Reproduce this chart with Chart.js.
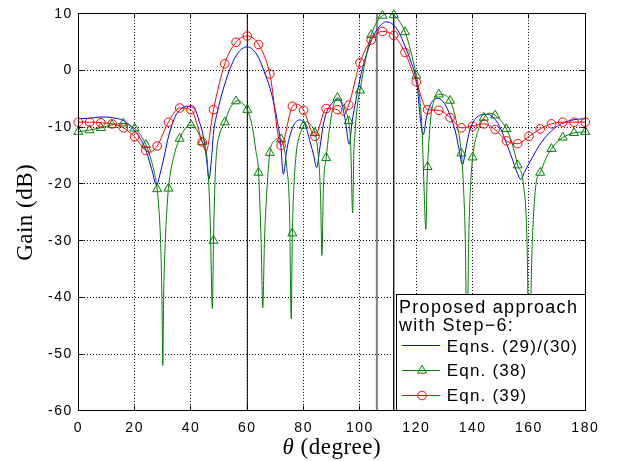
<!DOCTYPE html>
<html>
<head>
<meta charset="utf-8">
<title>Gain vs theta</title>
<script src="https://cdn.jsdelivr.net/npm/chart.js@4.4.1/dist/chart.umd.min.js"></script>
<style>
  html, body { margin: 0; padding: 0; background: #fff; }
  canvas { display: block; }
</style>
</head>
<body>
<canvas id="gainChart" width="617" height="461"></canvas>
<script>
// axis ticks
const thetaTicks = [0, 20, 40, 60, 80, 100, 120, 140, 160, 180];
const gainTicks = [-60, -50, -40, -30, -20, -10, 0, 10];

// Eqns. (29)/(30)
const blueTheta = [
  0, 4, 8, 10, 12, 16, 18, 20, 22, 24,
  26, 27.8, 29, 30.2, 32, 34.3, 36, 38.5, 40, 41.4,
  43, 44.4, 45.5, 46.4, 47.3, 48, 49.1, 50.5, 51.8, 54,
  56, 58, 60, 62, 64, 66, 68, 69.5, 70.5, 71.8,
  72.8, 74, 75.2, 76.5, 78.7, 80.5, 82.3, 83.6, 84.6, 85.8,
  87, 88.2, 90, 92.3, 93.5, 94.7, 96.2, 97.2, 98.2, 100,
  101.8, 104.2, 106.5, 109.4, 111.8, 114, 116, 118, 119.5, 120.5,
  121.3, 122.5, 123.5, 125, 127.8, 130, 132, 134, 135.2, 136.4,
  137.5, 139, 141, 143, 145.3, 148, 150, 152, 154, 155.8,
  157.1, 158.5, 161, 164.5, 169.2, 174, 177, 180
];
const blueGain = [
  -8.5, -8.4, -8.2, -8.2, -8.3, -8.8, -9.5, -10.6, -12, -14,
  -17.3, -20.2, -18.3, -15.8, -11.7, -8.2, -7.0, -6.3, -6.4, -6.8,
  -9.0, -11.7, -15.5, -19.1, -15.5, -11, -7.9, -5, -2.7, 0.5,
  2.6, 3.8, 4.2, 3.7, 2.3, -0.2, -3.0, -6, -8.5, -12.6,
  -18.3, -14, -11.4, -9.6, -8.7, -9.5, -12.6, -15, -17.1, -13.5,
  -9.5, -7.3, -5.8, -5.0, -5.8, -8.5, -13.0, -9, -6.2, -1.5,
  2.0, 5.5, 7.5, 8.6, 8.1, 6.6, 4.3, 1.7, -0.6, -3.5,
  -7.9, -11.3, -8.5, -6, -4.9, -5.8, -7.9, -11, -14, -16.6,
  -14, -10.5, -8.5, -7.8, -7.7, -8.6, -10.3, -12.8, -15.5, -18,
  -19.2, -17.8, -15.5, -12.6, -10.1, -8.9, -8.6, -8.5
];

// Eqn. (38)
const greenTheta = [
  0, 4, 8, 12, 16, 20, 22, 24, 26, 27,
  28, 28.7, 29.2, 29.7, 30, 30.3, 30.9, 31.4, 32, 34,
  36, 38, 40, 42, 44, 45.6, 46.8, 47.6, 48, 48.5,
  49.1, 50, 52, 54, 56, 57, 58, 60, 61, 62,
  63, 64, 64.9, 65.5, 66.1, 67.1, 68, 70, 71, 72,
  73, 74, 75, 75.6, 76, 76.6, 77.5, 78, 80, 81,
  82, 84, 85, 86, 86.5, 87, 88, 90, 92, 94,
  95, 96, 96.7, 97.4, 97.8, 98.2, 99, 100, 102, 104,
  106, 108, 110, 112, 114, 116, 118, 120, 121, 122,
  122.7, 123.4, 123.8, 124, 125, 126, 128, 130, 132, 134,
  136, 136.7, 137.4, 138, 138.6, 139.3, 140, 142, 144, 146,
  148, 150, 152, 154, 156, 158, 159.3, 160, 161.2, 162.5,
  164, 166, 168, 170, 172, 176, 180
];
const greenGain = [
  -10.8, -10.5, -10.1, -9.6, -9.3, -10.2, -11.3, -13.1, -16, -18,
  -20.9, -25, -30, -40, -52, -40, -30, -25, -20.8, -15,
  -12, -10.2, -9.6, -10.4, -12.6, -15, -26, -42, -30, -20,
  -14.3, -11.5, -9.1, -6.5, -5.4, -5.3, -5.6, -6.9, -8.3, -10.5,
  -14, -18, -30, -41.8, -30, -20, -14.5, -12.2, -11.9, -12.1,
  -13.5, -17, -25, -43.8, -28.7, -20, -14, -12.5, -9.7, -9.0,
  -9.3, -11.0, -14, -22, -32.6, -21, -15.4, -7.5, -4.8, -6,
  -7.3, -8.9, -13, -25.1, -15, -11.4, -6.5, -3.5, 2, 6.3,
  8.6, 9.7, 10.1, 9.8, 8.7, 6.8, 3.5, -0.9, -4, -10,
  -20, -28, -20, -17, -9, -5.8, -4.2, -4.3, -5.3, -8.5,
  -14.6, -20, -30, -50, -30, -20, -15.3, -10.5, -8.3, -7.5,
  -7.9, -8.8, -10.3, -12.8, -16.7, -20, -30, -50, -30, -20,
  -18, -15.5, -13.8, -12.6, -11.8, -11, -10.8
];

// Eqn. (39)
const redTheta = [
  0, 4, 8, 12, 16, 20, 24, 25.5, 28, 32,
  36, 40, 44, 45.3, 48, 52, 56, 60, 64, 68,
  72, 76, 77.5, 80, 84, 88, 92, 94, 96, 100,
  104, 108, 112, 116, 120, 124, 128, 132, 136, 140,
  144, 148, 152, 156, 160, 164, 168, 172, 176, 180
];
const redGain = [
  -9.1, -9.1, -9.2, -9.4, -10.1, -11.7, -14.1, -14.4, -13.3, -9.1,
  -6.6, -6.9, -12.6, -14.3, -6.9, 1.2, 5.0, 6.1, 4.6, -0.6,
  -13.2, -6.3, -5.9, -7.0, -11.6, -6.7, -6.9, -7.9, -6.1, 1.4,
  5.4, 6.9, 6.2, 3.2, -2.0, -6.9, -7.0, -8.3, -10.1, -9.8,
  -9.4, -10.4, -12.4, -12.9, -11.6, -10.3, -9.4, -9.1, -9.1, -9.1
];

// vertical lines across the plot
const refAngles = [60, 106, 112];

// ---------------------------------------------------------------

const pairs = (xs, ys) => xs.map((x, i) => ({ x: x, y: ys[i] }));

// markers only every 4 degrees
const every4 = r => c => (c.raw && c.raw.x % 4 === 0 ? r : 0);

const refStyles = [
  { color: '#000000', width: 1 },
  { color: '#808080', width: 2 },
  { color: '#000000', width: 1.3 }
];

const gMin = gainTicks[0];
const gMax = gainTicks[gainTicks.length - 1];

const curveBase = {
  borderWidth: 1,
  cubicInterpolationMode: 'monotone',
  backgroundColor: 'rgba(0,0,0,0)',
  pointBorderWidth: 1,
  pointHoverRadius: 0,
  clip: { left: 6, top: 6, right: 6, bottom: 0 }
};

const datasets = [
  Object.assign({}, curveBase, {
    label: 'Eqn. (39)',
    data: pairs(redTheta, redGain),
    borderColor: '#ff0000',
    pointBorderColor: '#ff0000',
    pointStyle: 'circle',
    pointRadius: every4(4.3)
  }),
  Object.assign({}, curveBase, {
    label: 'Eqn. (38)',
    data: pairs(greenTheta, greenGain),
    borderColor: '#008000',
    pointBorderColor: '#008000',
    pointStyle: 'triangle',
    pointRadius: every4(5.2)
  }),
  Object.assign({}, curveBase, {
    label: 'Eqns. (29)/(30)',
    data: pairs(blueTheta, blueGain),
    borderColor: '#0000ff',
    pointRadius: 0
  })
];

refAngles.forEach((a, i) => {
  datasets.push({
    label: 'ref' + a,
    data: [{ x: a, y: gMin }, { x: a, y: gMax }],
    borderColor: refStyles[i].color,
    borderWidth: refStyles[i].width,
    pointRadius: 0
  });
});

const align = v => Math.round(v - 0.5) + 0.5;

// box round the plot, inward ticks, titles and the legend
const decorations = {
  id: 'decorations',
  beforeDraw(chart) {
    chart.ctx.letterSpacing = '1.5px';
  },
  afterDatasetsDraw(chart) {
    const { ctx, chartArea: a, scales } = chart;
    const L = align(a.left), R = align(a.right), T = align(a.top), B = align(a.bottom);
    ctx.save();
    ctx.strokeStyle = '#000';
    ctx.lineWidth = 1;
    ctx.setLineDash([]);
    ctx.beginPath();
    thetaTicks.forEach(v => {
      const x = align(scales.x.getPixelForValue(v));
      ctx.moveTo(x, B); ctx.lineTo(x, B - 5);
      ctx.moveTo(x, T); ctx.lineTo(x, T + 5);
    });
    gainTicks.forEach(v => {
      const y = align(scales.y.getPixelForValue(v));
      ctx.moveTo(L, y); ctx.lineTo(L + 5, y);
      ctx.moveTo(R, y); ctx.lineTo(R - 5, y);
    });
    ctx.stroke();
    ctx.strokeRect(L, T, R - L, B - T);
    ctx.restore();
  },
  afterDraw(chart) {
    const { ctx, chartArea: a } = chart;
    ctx.save();
    ctx.fillStyle = '#000';

    // y title
    ctx.letterSpacing = '0.5px';
    ctx.font = '23px "Liberation Serif"';
    ctx.textAlign = 'center';
    ctx.textBaseline = 'alphabetic';
    ctx.save();
    ctx.translate(32, (a.top + a.bottom) / 2);
    ctx.rotate(-Math.PI / 2);
    ctx.fillText('Gain (dB)', 0, 0);
    ctx.restore();

    // x title, italic theta
    ctx.textAlign = 'left';
    ctx.font = 'italic 23px "Liberation Serif"';
    const th = 'θ';
    const thW = ctx.measureText(th).width;
    ctx.font = '23px "Liberation Serif"';
    const rest = ' (degree)';
    const restW = ctx.measureText(rest).width;
    let x0 = (a.left + a.right) / 2 - (thW + restW) / 2;
    ctx.font = 'italic 23px "Liberation Serif"';
    ctx.fillText(th, x0, 454);
    ctx.font = '23px "Liberation Serif"';
    ctx.fillText(rest, x0 + thW, 454);

    // legend box
    const bx = 396.5, by = 294.5, bw = align(a.right) - bx, bh = align(a.bottom) - by;
    ctx.fillStyle = '#fff';
    ctx.fillRect(bx, by, bw, bh);
    ctx.strokeStyle = '#000';
    ctx.lineWidth = 1;
    ctx.strokeRect(bx, by, bw, bh);

    ctx.fillStyle = '#000';
    ctx.letterSpacing = '1.3px';
    ctx.font = '18px "Liberation Sans"';
    ctx.fillText('Proposed approach', 399, 312.7);
    ctx.fillText('with Step\u22126:', 399, 330.7);

    ctx.font = '17px "Liberation Sans"';
    ctx.letterSpacing = '1.2px';
    const entries = [
      { text: 'Eqns. (29)/(30)', color: '#0000ff', y: 351.7, marker: null, r: 0 },
      { text: 'Eqn. (38)', color: '#008000', y: 376, marker: 'triangle', r: 5.2 },
      { text: 'Eqn. (39)', color: '#ff0000', y: 401, marker: 'circle', r: 4.3 }
    ];
    entries.forEach(e => {
      const ly = Math.round(e.y - 6.5) + 0.5;
      ctx.strokeStyle = e.color;
      ctx.lineWidth = 1;
      ctx.beginPath();
      ctx.moveTo(402, ly);
      ctx.lineTo(440, ly);
      ctx.stroke();
      if (e.marker) {
        ctx.fillStyle = 'rgba(0,0,0,0)';
        Chart.helpers.drawPoint(ctx, { pointStyle: e.marker, radius: e.r, rotation: 0, borderWidth: 1 }, 422, ly);
      }
      ctx.fillStyle = '#000';
      ctx.fillText(e.text, 446.7, e.y);
    });
    ctx.restore();
  }
};

new Chart(document.getElementById('gainChart'), {
  type: 'line',
  data: { datasets: datasets },
  options: {
    responsive: false,
    animation: false,
    events: [],
    layout: { padding: { top: 11, right: 31.7, left: 0, bottom: 0 } },
    plugins: {
      legend: { display: false },
      tooltip: { enabled: false }
    },
    scales: {
      x: {
        type: 'linear',
        min: thetaTicks[0],
        max: thetaTicks[thetaTicks.length - 1],
        afterBuildTicks: s => { s.ticks = thetaTicks.map(v => ({ value: v })); },
        afterFit: s => { s.height = 50.3; },
        grid: { color: '#000', lineWidth: 1, drawTicks: false },
        border: { display: false, dash: [1, 2] },
        ticks: {
          autoSkip: false,
          maxRotation: 0,
          padding: 9,
          color: '#000',
          font: { family: 'Liberation Sans', size: 14 }
        }
      },
      y: {
        type: 'linear',
        min: gMin,
        max: gMax,
        afterBuildTicks: s => { s.ticks = gainTicks.map(v => ({ value: v })); },
        afterFit: s => { s.width = 78.3; },
        grid: { color: '#000', lineWidth: 1, drawTicks: false },
        border: { display: false, dash: [1, 2] },
        ticks: {
          autoSkip: false,
          padding: 5.5,
          color: '#000',
          font: { family: 'Liberation Sans', size: 14 }
        }
      }
    }
  },
  plugins: [decorations]
});
</script>
</body>
</html>
